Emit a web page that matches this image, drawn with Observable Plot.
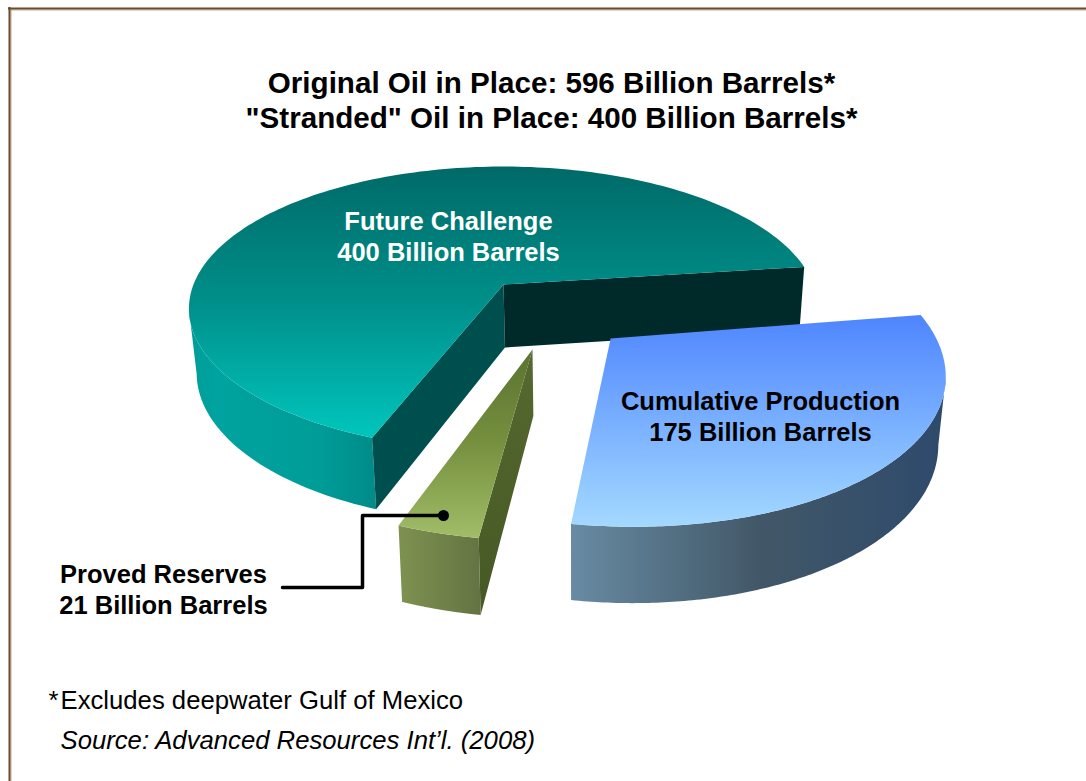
<!DOCTYPE html>
<html>
<head>
<meta charset="utf-8">
<script src="https://cdn.jsdelivr.net/npm/d3@7"></script>
<script src="https://cdn.jsdelivr.net/npm/@observablehq/plot@0.6"></script>
<style>
html,body{margin:0;padding:0;background:#fff;overflow:hidden}
svg{display:block}
</style>
</head>
<body>
<div id="root"></div>
<script>
// Data
const sliceNames = ["Cumulative Production", "Proved Reserves", "Future Challenge"];
const sliceValues = [175, 21, 400];
const sliceOffsets = [[0.324, 0.367], [0.0866, 0.436], [0, 0]];
const sliceRadius = [0.985, 0.975, 1];
const sliceStartNudge = [-1.5, 0.5, 0];
const sliceEndNudge = [0.9, 0, 0];

const titleLines = ["Original Oil in Place: 596 Billion Barrels*", "\"Stranded\" Oil in Place: 400 Billion Barrels*"];
const textRows = [
  {t: titleLines[0], x: 551, y: 92, s: 29.6, w: "bold", f: "#000", a: "middle"},
  {t: titleLines[1], x: 551, y: 127, s: 29.6, w: "bold", f: "#000", a: "middle"},
  {t: "Future Challenge", x: 448, y: 229, s: 25.5, w: "bold", f: "#fff", a: "middle"},
  {t: "400 Billion Barrels", x: 448, y: 260, s: 25.5, w: "bold", f: "#fff", a: "middle"},
  {t: "Cumulative Production", x: 760, y: 409, s: 25.5, w: "bold", f: "#000", a: "middle"},
  {t: "175 Billion Barrels", x: 760, y: 440, s: 25.5, w: "bold", f: "#000", a: "middle"},
  {t: "Proved Reserves", x: 163, y: 582, s: 25.5, w: "bold", f: "#000", a: "middle"},
  {t: "21 Billion Barrels", x: 163, y: 613, s: 25.5, w: "bold", f: "#000", a: "middle"},
  {t: "*", x: 48, y: 708, s: 25.7, w: "normal", f: "#000", a: "start"},
  {t: "Excludes deepwater Gulf of Mexico", x: 60, y: 708, s: 25.7, w: "normal", f: "#000", a: "start"},
  {t: "Source: Advanced Resources Int\u2019l. (2008)", x: 60, y: 748, s: 25.7, w: "normal", f: "#000", a: "start", i: "italic"}
];
const leaderX = [282, 362, 362, 443];
const leaderY = [587, 587, 515, 515];

// Perspective view of the pie
const view = {cx: 503, cy: 284, a: 310, b: 138, k: 0.17, startDeg: -7.5};
const total = d3.sum(sliceValues);
const project = (X, Y) => {
  const d = 1 - view.k * Y;
  return {x: view.cx + view.a * X / d, y: view.cy + view.b * Y / d};
};
const drop = p => ({x: 575 + 0.98 * (p.x - 575), y: p.y + 62 + 0.055 * (p.y - 265)});

let acc = view.startDeg;
const slices = sliceValues.map((v, i) => {
  const t0 = acc + sliceStartNudge[i], t1 = acc + v / total * 360 + sliceEndNudge[i];
  acc += v / total * 360;
  const [ox, oy] = sliceOffsets[i], r = sliceRadius[i];
  const rimAt = deg => project(ox + r * Math.cos(deg * Math.PI / 180), oy + r * Math.sin(deg * Math.PI / 180));
  const rim = d3.range(0, 181).map(j => rimAt(t0 + (t1 - t0) * j / 180));
  return {name: sliceNames[i], apex: project(ox, oy), rim};
});
const [blue, green, teal] = slices;

const topFace = s => [s.apex, ...s.rim];
const wallFace = pts => [...pts, ...pts.map(drop).reverse()];
const firstPt = a => a[0], lastPt = a => a[a.length - 1];

// visible outer walls end at the silhouette points
const blueExt = d3.greatestIndex(blue.rim, p => p.x);
const tealExt = d3.leastIndex(teal.rim, p => p.x);

const fillPoly = (pts, fill) => Plot.line(pts, {x: "x", y: "y", fill, stroke: "none"});

const gradientDefs = () => {
  const ns = "http://www.w3.org/2000/svg";
  const d = document.createElementNS(ns, "defs");
  const grads = [
    ["gTealTop", 0, 1, [[0, "#006a68"], [0.5, "#008f8a"], [1, "#00c6bd"]]],
    ["gTealWall", 1, 0, [[0, "#009d99"], [0.15, "#00a39f"], [0.7, "#009c98"], [1, "#008b88"]]],
    ["gBlueTop", 0, 1, [[0, "#4e85ff"], [1, "#a3d9ff"]]],
    ["gBlueWall", 1, 0, [[0, "#688ba3"], [0.5, "#425868"], [1, "#2e4a6c"]]],
    ["gGreenTop", 0, 1, [[0, "#5a7230"], [0.5, "#76903f"], [1, "#a1bd68"]]],
    ["gGreenWall", 1, 0, [[0, "#7e9250"], [1, "#647343"]]],
    ["gGreenSide", 0, 1, [[0, "#556930"], [1, "#465824"]]]
  ];
  for (const [id, h, v, stops] of grads) {
    const g = document.createElementNS(ns, "linearGradient");
    g.setAttribute("id", id);
    g.setAttribute("x1", 0); g.setAttribute("y1", 0);
    g.setAttribute("x2", h); g.setAttribute("y2", v);
    for (const [o, c] of stops) {
      const s = document.createElementNS(ns, "stop");
      s.setAttribute("offset", o); s.setAttribute("stop-color", c);
      g.appendChild(s);
    }
    d.appendChild(g);
  }
  return d;
};

const tealFrontRim = teal.rim.slice(0, tealExt + 1);
const chartEl = Plot.plot({
  width: 1086, height: 781, margin: 0,
  x: {domain: [0, 1086], range: [0, 1086], axis: null},
  y: {domain: [0, 781], range: [0, 781], axis: null},
  style: {background: "#fff", fontFamily: "'Liberation Sans', Arial, sans-serif"},
  marks: [
    gradientDefs,
    Plot.ruleX([10.5], {y1: 9, y2: 781, stroke: "#c4ab90", strokeWidth: 1}),
    Plot.ruleY([9.5], {x1: 10, x2: 1086, stroke: "#c4ab90", strokeWidth: 1}),
    Plot.ruleX([9], {y1: 7, y2: 781, stroke: "#6b4a2e", strokeWidth: 2}),
    Plot.ruleY([8], {x1: 8, x2: 1086, stroke: "#6b4a2e", strokeWidth: 2}),
    // Future Challenge
    fillPoly(wallFace(tealFrontRim), "url(#gTealWall)"),
    fillPoly(wallFace([teal.apex, firstPt(teal.rim)]), "#004f4f"),
    fillPoly(wallFace([teal.apex, lastPt(teal.rim)]), "#002a2a"),
    fillPoly(topFace(teal), "url(#gTealTop)"),
    // Cumulative Production
    fillPoly(wallFace(blue.rim.slice(blueExt)), "url(#gBlueWall)"),
    fillPoly(topFace(blue), "url(#gBlueTop)"),
    // Proved Reserves
    fillPoly(wallFace([green.apex, firstPt(green.rim)]), "url(#gGreenSide)"),
    fillPoly(wallFace(green.rim), "url(#gGreenWall)"),
    fillPoly(topFace(green), "url(#gGreenTop)"),
    // Leader
    Plot.line(leaderX.map((x, i) => ({x, y: leaderY[i]})), {x: "x", y: "y", stroke: "#000", strokeWidth: 3.5}),
    Plot.dot([{x: leaderX[3], y: leaderY[3]}], {x: "x", y: "y", r: 5.5, fill: "#000", stroke: "none"}),
    // Text
    ...textRows.map(r => Plot.text([r], {
      x: "x", y: "y", text: "t", fontSize: r.s, fontWeight: r.w, fill: r.f,
      textAnchor: r.a, fontStyle: r.i || "normal", lineAnchor: "bottom",
      stroke: "none"
    }))
  ]
});
document.getElementById("root").appendChild(chartEl);
</script>
</body>
</html>
